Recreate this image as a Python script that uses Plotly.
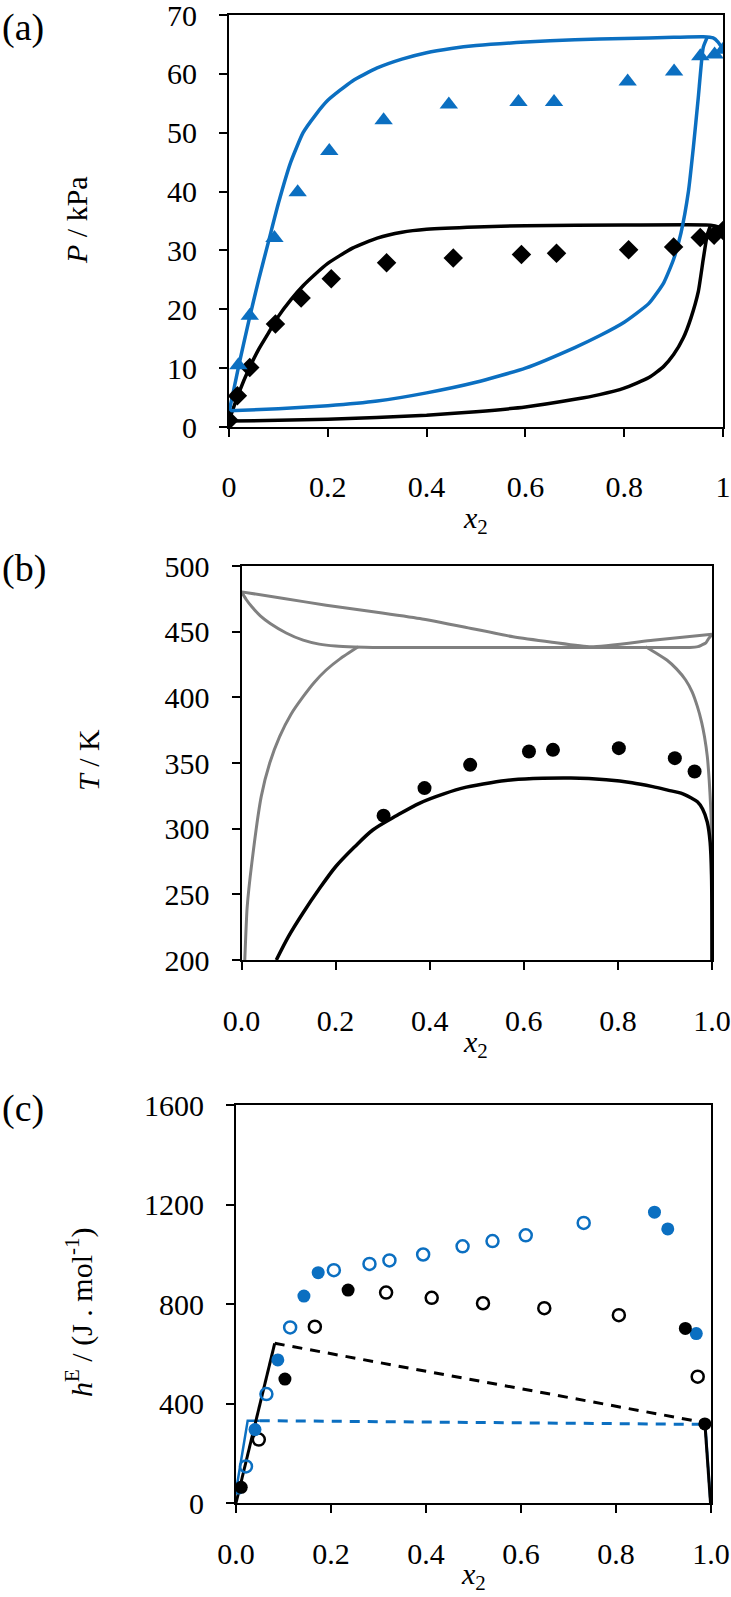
import plotly.graph_objects as go

BLUE = "#0b6fc1"
GRAY = "#808080"
FONT = "Liberation Serif, Times New Roman, serif"

# ---- panel (a): P-x data ----
a_tri_x = [0.019, 0.042, 0.092, 0.139, 0.203, 0.313, 0.445, 0.586, 0.658, 0.807, 0.901, 0.954, 0.983, 1.0]
a_tri_y = [10.5, 18.9, 32.1, 39.9, 46.9, 52.1, 54.8, 55.2, 55.2, 58.7, 60.4, 63.0, 63.3, 64.1]
a_dia_x = [0.0, 0.017, 0.042, 0.094, 0.146, 0.207, 0.319, 0.454, 0.592, 0.663, 0.809, 0.900, 0.954, 0.982, 1.0]
a_dia_y = [1.15, 5.3, 10.1, 17.5, 21.9, 25.2, 27.9, 28.7, 29.3, 29.5, 30.1, 30.6, 32.2, 32.6, 33.4]

a_blue_up_x = [0, 0.01, 0.02, 0.04, 0.06, 0.08, 0.1, 0.125, 0.15, 0.175, 0.2, 0.25, 0.3, 0.35, 0.4,
               0.45, 0.5, 0.6, 0.7, 0.8, 0.9, 0.96, 0.98, 0.99, 1.0]
a_blue_up_y = [2.5, 6.5, 10.5, 18, 25, 31.5, 38, 45, 50, 53, 55.5, 58.8, 61, 62.5, 63.6,
               64.3, 64.8, 65.4, 65.8, 66.0, 66.2, 66.3, 66.1, 65.4, 64.2]
a_blue_lo_x = [0, 0.1, 0.2, 0.3, 0.4, 0.5, 0.6, 0.7, 0.75, 0.8, 0.85, 0.88, 0.9, 0.915, 0.93,
               0.94, 0.95, 0.96, 0.968]
a_blue_lo_y = [2.75, 3.1, 3.6, 4.4, 5.8, 7.6, 10.0, 13.5, 15.5, 17.8, 21.0, 24.5, 28.5, 33.0, 40,
               47.5, 56, 64.5, 66.2]
a_blk_up_x = [0, 0.02, 0.04, 0.06, 0.08, 0.1, 0.125, 0.15, 0.175, 0.2, 0.25, 0.3, 0.35, 0.4, 0.5,
              0.6, 0.8, 0.975, 0.99, 1.0]
a_blk_up_y = [1.1, 5.8, 9.8, 13.2, 16.0, 18.8, 21.6, 24.0, 26.0, 27.8, 30.4, 32.1, 33.1, 33.6, 34.0,
              34.2, 34.3, 34.3, 34.0, 33.4]
a_blk_lo_x = [0, 0.2, 0.4, 0.5, 0.6, 0.7, 0.75, 0.8, 0.85, 0.88, 0.9, 0.92, 0.935, 0.95, 0.96,
              0.968, 0.975]
a_blk_lo_y = [1.0, 1.3, 2.0, 2.6, 3.4, 4.7, 5.5, 6.6, 8.4, 10.3, 12.3, 15.2, 18.5, 23.0, 28.5,
              32.6, 34.3]

# ---- panel (b): T-x data ----
b_dot_x = [0.302, 0.389, 0.486, 0.611, 0.662, 0.802, 0.921, 0.963]
b_dot_y = [309.9, 330.9, 348.6, 358.7, 360.0, 361.3, 353.7, 343.5]
b_blk_x = [0.074, 0.1, 0.131, 0.165, 0.2, 0.24, 0.279, 0.33, 0.379, 0.43, 0.478, 0.53, 0.577, 0.64,
           0.7, 0.775, 0.83, 0.874, 0.91, 0.934, 0.955, 0.969, 0.98, 0.99, 0.996, 0.999, 1.0]
b_blk_y = [200, 218, 236, 254, 271, 286, 299, 310, 319.5, 326.5, 331.6, 335, 337.2, 338.3,
           338.5, 337.2, 335, 332, 329, 327, 323.5, 320.5, 315, 305, 290, 265, 200]
b_top_x = [0, 0.09, 0.18, 0.28, 0.379, 0.478, 0.577, 0.66, 0.743, 0.874, 1.0]
b_top_y = [480.3, 475.3, 470.1, 465.2, 460, 453.2, 446.1, 442, 438.5, 443.5, 448.1]
b_flat_x = [0, 0.01, 0.022, 0.04, 0.061, 0.095, 0.131, 0.165, 0.2, 0.24, 0.279, 0.6, 0.953, 0.97,
            0.978, 0.987, 0.993, 1.0]
b_flat_y = [480.3, 474.5, 468.9, 462, 456.2, 449, 443.5, 440.5, 439, 438.3, 438, 438, 438, 438.6,
            439.8, 441.5, 444.8, 448.1]
b_left_x = [0.007, 0.012, 0.022, 0.042, 0.06, 0.081, 0.105, 0.131, 0.155, 0.18, 0.21, 0.248]
b_left_y = [200, 240, 274, 324.6, 350, 370.1, 387, 400.5, 411.5, 420.8, 429.5, 438.5]
b_right_x = [0.859, 0.88, 0.904, 0.925, 0.944, 0.958, 0.969, 0.978, 0.984, 0.99, 0.994, 0.997,
             0.999, 1.0]
b_right_y = [438.5, 434, 428.4, 421.5, 413.2, 404, 392.9, 381, 370.1, 355, 337.2, 318, 299.2, 200]

# ---- panel (c): hE data ----
c_bfill_x = [0.005, 0.04, 0.088, 0.143, 0.173, 0.881, 0.909, 0.969]
c_bfill_y = [60, 295, 575, 832, 926, 1169, 1102, 681]
c_bopen_x = [0.021, 0.064, 0.114, 0.206, 0.281, 0.323, 0.394, 0.477, 0.54, 0.61, 0.732]
c_bopen_y = [147, 438, 706, 936, 961, 975, 999, 1032, 1053, 1076, 1126]
c_kfill_x = [0.011, 0.103, 0.236, 0.946, 0.987]
c_kfill_y = [63, 498, 856, 702, 318]
c_kopen_x = [0.048, 0.166, 0.316, 0.412, 0.52, 0.649, 0.806, 0.972]
c_kopen_y = [255, 709, 846, 825, 803, 783, 755, 508]
c_bline_x = [0.0015, 0.0246, 0.05]
c_bline_y = [65, 331, 331]
c_bdash_x = [0.05, 0.99]
c_bdash_y = [331, 316]
c_bend_x = [0.988, 0.999]
c_bend_y = [316, 0]
c_kline_x = [0.0, 0.0815]
c_kline_y = [0, 642]
c_kdash_x = [0.0815, 0.987]
c_kdash_y = [642, 323]
c_kend_x = [0.987, 0.999]
c_kend_y = [323, 0]

fig = go.Figure()

def line(x, y, color, ax, width=3.5, dash="solid", shape="spline", smooth=0.5):
    fig.add_trace(go.Scatter(x=x, y=y, mode="lines", xaxis="x" + ax, yaxis="y" + ax,
                             line=dict(color=color, width=width, dash=dash, shape=shape,
                                       smoothing=smooth if shape == "spline" else None),
                             showlegend=False, hoverinfo="skip"))

def pts(x, y, ax, symbol, color, size, open_=False):
    if open_:
        m = dict(symbol="circle-open", color=color, size=size, line=dict(color=color, width=2.5))
    else:
        m = dict(symbol=symbol, color=color, size=size, line=dict(width=0))
    fig.add_trace(go.Scatter(x=x, y=y, mode="markers", xaxis="x" + ax, yaxis="y" + ax,
                             marker=m, showlegend=False, hoverinfo="skip"))

# (a)
line(a_blk_lo_x, a_blk_lo_y, "black", "")
line(a_blk_up_x, a_blk_up_y, "black", "")
line(a_blue_lo_x, a_blue_lo_y, BLUE, "")
line(a_blue_up_x, a_blue_up_y, BLUE, "")
pts(a_dia_x, a_dia_y, "", "diamond", "black", 15)
pts(a_tri_x, a_tri_y, "", "triangle-up", BLUE, 16)

# (b)
line(b_top_x, b_top_y, GRAY, "2", width=3)
line(b_flat_x, b_flat_y, GRAY, "2", width=3)
line(b_left_x, b_left_y, GRAY, "2", width=3)
line(b_right_x, b_right_y, GRAY, "2", width=3)
line(b_blk_x, b_blk_y, "black", "2", smooth=0.9)
pts(b_dot_x, b_dot_y, "2", "circle", "black", 14)

# (c)
line(c_bline_x, c_bline_y, BLUE, "3", width=2.5, shape="linear")
line(c_bdash_x, c_bdash_y, BLUE, "3", width=3, dash="10px,8px", shape="linear")
line(c_bend_x, c_bend_y, BLUE, "3", width=2.5, shape="linear")
line(c_kline_x, c_kline_y, "black", "3", width=3, shape="linear")
line(c_kdash_x, c_kdash_y, "black", "3", width=3, dash="10px,8px", shape="linear")
line(c_kend_x, c_kend_y, "black", "3", width=3, shape="linear")
pts(c_bopen_x, c_bopen_y, "3", "circle", BLUE, 12, open_=True)
pts(c_kopen_x, c_kopen_y, "3", "circle", "black", 12, open_=True)
pts(c_bfill_x, c_bfill_y, "3", "circle", BLUE, 13)
pts(c_kfill_x, c_kfill_y, "3", "circle", "black", 13)

W, H = 731, 1597

def xdom(l, r):
    return [l / W, r / W]

def ydom(top, bot):
    return [1 - bot / H, 1 - top / H]

tickfont = dict(family=FONT, size=30, color="black")
common = dict(showline=True, linecolor="black", linewidth=2, mirror=True, ticks="outside",
              ticklen=8, tickwidth=2, tickcolor="black", showgrid=False, zeroline=False,
              tickfont=tickfont, automargin=False, ticklabeloverflow="allow")

fig.update_layout(
    width=W, height=H, margin=dict(l=0, r=0, t=0, b=0, autoexpand=False),
    paper_bgcolor="white", plot_bgcolor="white",
    font=dict(family=FONT, size=28, color="black"),
    xaxis=dict(domain=xdom(229, 723), range=[0, 1], tickvals=[0, 0.2, 0.4, 0.6, 0.8, 1],
               ticktext=["0", "0.2", "0.4", "0.6", "0.8", "1"], anchor="y", ticklabelstandoff=24, **common),
    yaxis=dict(domain=ydom(15, 427), range=[0, 70], dtick=10, anchor="x", ticklabelstandoff=16, **common),
    xaxis2=dict(domain=xdom(241.5, 712), range=[0, 1], dtick=0.2, tickformat=".1f", anchor="y2",
                ticklabelstandoff=25, **common),
    yaxis2=dict(domain=ydom(566, 960), range=[200, 500], dtick=50, anchor="x2", ticklabelstandoff=16, **common),
    xaxis3=dict(domain=xdom(236, 711), range=[0, 1], dtick=0.2, tickformat=".1f", anchor="y3",
                ticklabelstandoff=15, **common),
    yaxis3=dict(domain=ydom(1105, 1503), range=[0, 1600], dtick=400, anchor="x3", ticklabelstandoff=16, **common),
)

def ann(text, xp, yp, size=30, angle=0, xanchor="center"):
    fig.add_annotation(text=text, x=xp / W, y=1 - yp / H, xref="paper", yref="paper",
                       showarrow=False, textangle=angle, xanchor=xanchor, yanchor="middle",
                       font=dict(family=FONT, size=size, color="black"))

ann("(a)", 0, 28, size=38, xanchor="left")
ann("(b)", 0, 568, size=38, xanchor="left")
ann("(c)", 0, 1108, size=38, xanchor="left")
ann("<i>P</i> / kPa", 77, 220, angle=-90)
ann("<i>T</i> / K", 88, 760, angle=-90)
ann("<i>h</i><sup>E</sup> / (J . mol<sup>-1</sup>)", 79, 1312, angle=-90)
ann("<i>x</i><sub>2</sub>", 475, 520)
ann("<i>x</i><sub>2</sub>", 475, 1044)
ann("<i>x</i><sub>2</sub>", 473, 1576)

# the page's default body margin would push the figure 8 px right and down
fig.write_html("out.html", config={"displayModeBar": False},
               post_script="document.body.style.margin='0px';")
